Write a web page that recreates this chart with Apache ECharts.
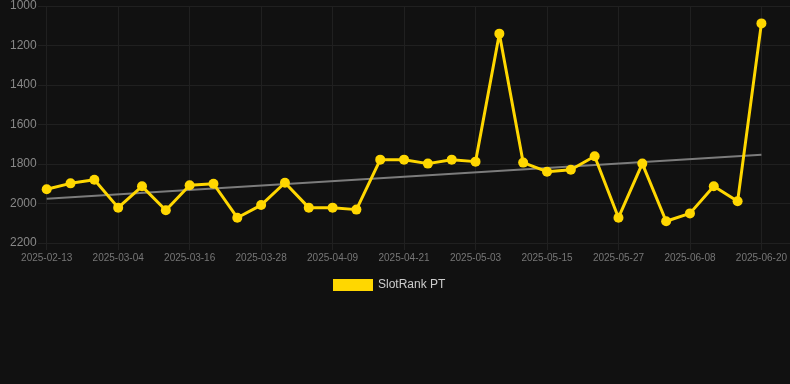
<!DOCTYPE html>
<html>
<head>
<meta charset="utf-8">
<script src="https://cdn.jsdelivr.net/npm/echarts@6/dist/echarts.min.js"></script>
<style>
html,body{margin:0;padding:0;background:#111111;}
#chart{width:790px;height:384px;}
</style>
</head>
<body>
<div id="chart"></div>
<script>
var categories = ['2025-02-13','2025-02-20','2025-02-26','2025-03-04','2025-03-08','2025-03-12','2025-03-16','2025-03-20','2025-03-24','2025-03-28','2025-04-01','2025-04-05','2025-04-09','2025-04-13','2025-04-17','2025-04-21','2025-04-25','2025-04-29','2025-05-03','2025-05-07','2025-05-11','2025-05-15','2025-05-19','2025-05-23','2025-05-27','2025-05-31','2025-06-04','2025-06-08','2025-06-12','2025-06-16','2025-06-20'];
var rankValues = [1928,1898,1880,2021,1913,2034,1908,1900,2072,2008,1895,2021,2021,2031,1778,1778,1798,1778,1788,1140,1793,1839,1829,1761,2072,1798,2090,2050,1913,1989,1088];
var trendEnds = [1976,1753];
var yTicks = [1000,1200,1400,1600,1800,2000,2200];
var seriesName = 'SlotRank PT';

var trendData = categories.map(function(c,i){
  if(i===0) return trendEnds[0];
  if(i===categories.length-1) return trendEnds[1];
  return null;
});

var chart = echarts.init(document.getElementById('chart'), null, {renderer:'canvas'});
var font = 'Liberation Sans, Arial, Helvetica, sans-serif';
var gridColor = '#202020';
chart.setOption({
  backgroundColor:'#111111',
  animation:false,
  textStyle:{fontFamily:font},
  legend:{
    data:[seriesName],
    left:333, top:279, padding:0,
    itemWidth:40, itemHeight:12, itemGap:10,
    icon:'rect',
    textStyle:{color:'#cccccc', fontSize:12, fontFamily:font}
  },
  grid:[
    {left:46.7, right:28, top:6, bottom:141},
    {left:38, right:0, top:6, bottom:141}
  ],
  xAxis:[
    {
      type:'category', gridIndex:0, data:categories, boundaryGap:false,
      axisLine:{show:false},
      axisTick:{show:true, interval:2, length:7, lineStyle:{color:gridColor}},
      axisLabel:{interval:2, color:'#777777', fontSize:10, fontFamily:font, margin:10},
      splitLine:{show:true, interval:2, lineStyle:{color:gridColor, width:1}}
    },
    {type:'value', gridIndex:1, min:0, max:1, show:false, splitLine:{show:false}}
  ],
  yAxis:[
    {
      type:'value', gridIndex:0, inverse:true, min:yTicks[0], max:yTicks[yTicks.length-1], interval:200,
      axisLine:{show:false}, axisTick:{show:false},
      axisLabel:{color:'#888888', fontSize:12, fontFamily:font, align:'left', margin:36.7,
        formatter:function(v){return String(v);}},
      splitLine:{show:false}
    },
    {
      type:'value', gridIndex:1, inverse:true, min:yTicks[0], max:yTicks[yTicks.length-1], interval:200,
      axisLine:{show:false}, axisTick:{show:false}, axisLabel:{show:false},
      splitLine:{show:true, lineStyle:{color:gridColor, width:1}}
    }
  ],
  series:[
    {
      name:'trend', type:'line', xAxisIndex:0, yAxisIndex:0,
      data:trendData, connectNulls:true, showSymbol:false, symbol:'none',
      lineStyle:{color:'#7c7c7c', width:2}, z:2, silent:true
    },
    {
      name:seriesName, type:'line', xAxisIndex:0, yAxisIndex:0,
      data:rankValues, symbol:'circle', symbolSize:10, showSymbol:true,
      itemStyle:{color:'#FFD700'},
      lineStyle:{color:'#FFD700', width:3}, z:3
    }
  ]
});
</script>
</body>
</html>
